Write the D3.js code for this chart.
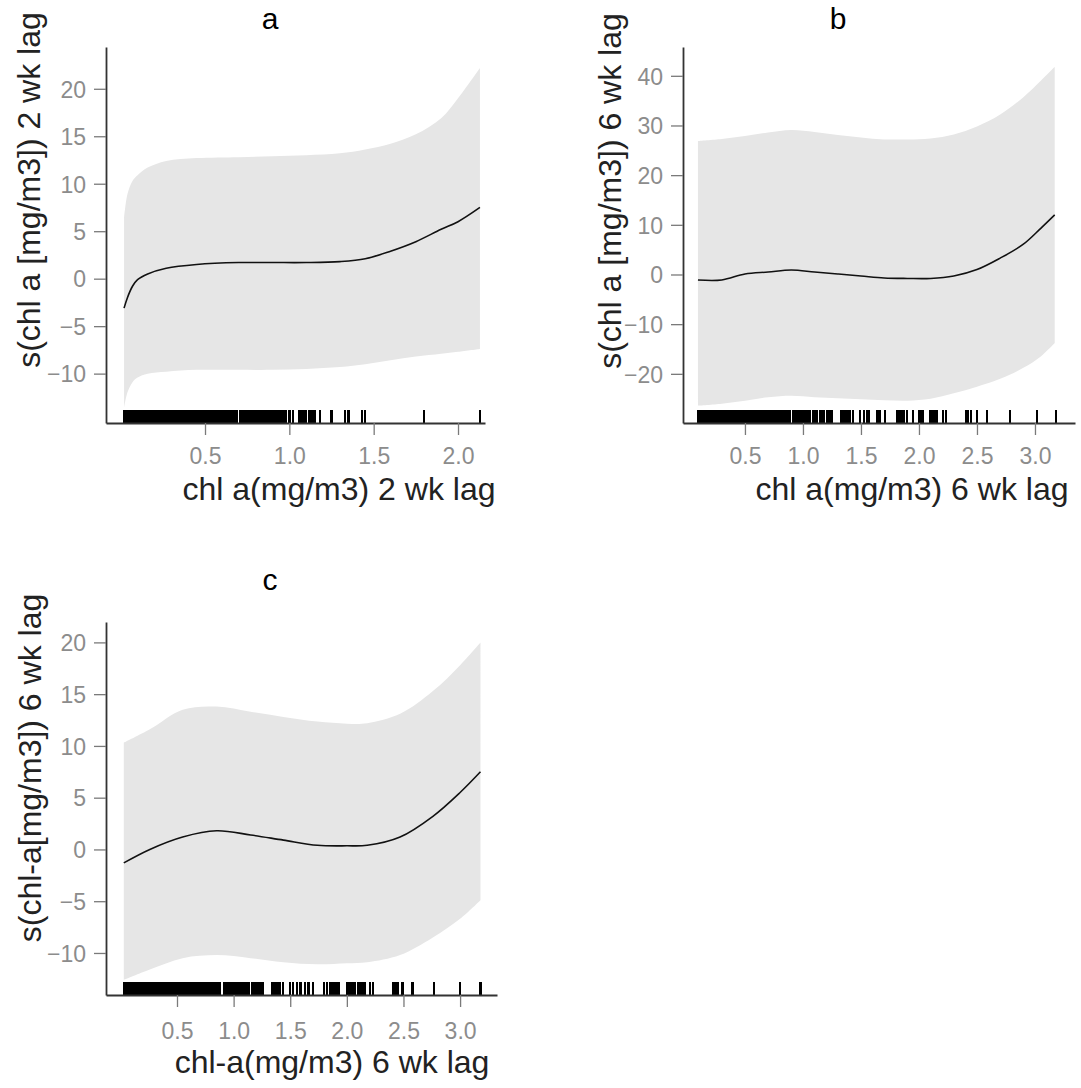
<!DOCTYPE html>
<html>
<head>
<meta charset="utf-8">
<script src="https://cdn.jsdelivr.net/npm/d3@7/dist/d3.min.js"></script>
<style>
  body { margin: 0; background: #fff; }
  svg { font-family: "Liberation Sans", Arial, sans-serif; }
  .tick text { fill: #8c8c8c; font-size: 23px; }
  .tick line { stroke: #7a7a7a; stroke-width: 1.3; }
  .domain { stroke: #333; stroke-width: 1.8; }
</style>
</head>
<body>
<div id="chart"></div>
<script>
// ---- panel a: chl a 2 wk lag ----
const aX     = [0.02, 0.04, 0.07, 0.10, 0.16, 0.27, 0.45, 0.70, 0.90, 1.10, 1.30, 1.45, 1.60, 1.75, 1.90, 2.00, 2.13];
const aFit   = [-3.1, -2.0, -0.8, -0.1, 0.5, 1.1, 1.5, 1.7, 1.7, 1.7, 1.8, 2.1, 2.9, 3.9, 5.2, 6.0, 7.5];
const aUpper = [6.4, 8.9, 10.3, 10.9, 11.7, 12.4, 12.7, 12.8, 12.9, 13.0, 13.2, 13.6, 14.2, 15.2, 16.9, 19.0, 22.2];
const aLower = [-13.6, -12.0, -10.9, -10.4, -10.0, -9.8, -9.6, -9.6, -9.6, -9.5, -9.3, -9.0, -8.6, -8.2, -7.9, -7.7, -7.4];
const aRug = [
  0.02,0.03,0.04,0.05,0.06,0.07,0.08,0.09,0.10,0.11,0.12,0.13,0.14,0.15,0.16,0.17,0.18,0.19,0.20,
  0.21,0.22,0.23,0.24,0.25,0.26,0.27,0.28,0.29,0.30,0.31,0.32,0.33,0.34,0.35,0.36,0.37,0.38,0.39,
  0.40,0.41,0.42,0.43,0.44,0.45,0.46,0.47,0.48,0.49,0.50,0.51,0.52,0.53,0.54,0.55,0.56,0.57,0.58,
  0.59,0.60,0.61,0.62,0.63,0.64,0.65,0.66,0.67,0.68,0.69,
  0.71,0.72,0.73,0.74,0.75,0.76,0.77,0.78,0.79,0.80,0.81,0.82,0.83,0.84,0.85,0.86,0.87,0.88,0.89,
  0.90,0.91,0.92,0.93,0.94,0.95,0.96,0.97,0.98,
  1.00,1.02,1.06,1.07,1.08,1.09,1.10,1.12,1.13,1.14,1.15,1.18,1.25,1.33,1.35,1.43,1.45,1.80,2.13
];
const aYTicks = [-10, -5, 0, 5, 10, 15, 20];

// ---- panel b: chl a 6 wk lag ----
const bX     = [0.095, 0.3, 0.5, 0.7, 0.9, 1.1, 1.3, 1.5, 1.7, 1.9, 2.1, 2.3, 2.5, 2.7, 2.9, 3.05, 3.17];
const bFit   = [-1.1, -1.1, 0.1, 0.5, 0.9, 0.5, 0.1, -0.3, -0.7, -0.8, -0.8, -0.3, 1.0, 3.3, 6.1, 9.3, 12.0];
const bUpper = [26.9, 27.3, 27.9, 28.6, 29.1, 28.7, 28.1, 27.6, 27.2, 27.2, 27.4, 28.2, 29.8, 32.2, 35.7, 39.0, 41.8];
const bLower = [-26.4, -26.0, -25.4, -24.7, -24.4, -24.7, -24.9, -25.1, -25.3, -25.4, -25.0, -23.9, -22.6, -21.0, -18.8, -16.5, -13.8];
const bRug = [
  0.095,0.11,0.125,0.14,0.155,0.17,0.185,0.20,0.215,0.23,0.245,0.26,0.275,0.29,0.305,0.32,0.335,0.35,
  0.365,0.38,0.395,0.41,0.425,0.44,0.455,0.47,0.485,0.50,0.515,0.53,0.545,0.56,0.575,0.59,0.605,0.62,
  0.635,0.65,0.665,0.68,0.695,0.71,0.725,0.74,0.755,0.77,0.785,0.80,0.815,0.83,0.845,0.86,0.875,0.888,
  0.914,0.93,0.945,0.96,0.975,0.99,1.005,1.02,1.035,1.05,1.06,
  1.086,1.10,1.12,1.147,1.165,1.18,1.207,1.225,1.24,1.25,
  1.328,1.345,1.36,1.375,1.39,1.405,1.43,1.49,1.526,1.55,1.57,1.64,1.66,1.707,
  1.81,1.83,1.85,1.87,1.897,1.95,2.0,2.015,2.03,2.095,2.11,2.125,2.14,2.155,2.207,2.233,
  2.405,2.425,2.448,2.5,2.586,2.784,3.017,3.18
];
const bYTicks = [-20, -10, 0, 10, 20, 30, 40];

// ---- panel c: chl-a 6 wk lag ----
const cX     = [0.03, 0.26, 0.55, 0.85, 1.15, 1.44, 1.74, 2.0, 2.18, 2.47, 2.76, 3.0, 3.18];
const cFit   = [-1.3, 0.0, 1.2, 1.8, 1.4, 0.9, 0.4, 0.35, 0.4, 1.2, 3.2, 5.5, 7.5];
const cUpper = [10.3, 11.6, 13.5, 13.8, 13.3, 12.8, 12.35, 12.15, 12.2, 13.1, 15.3, 17.8, 20.0];
const cLower = [-12.6, -11.6, -10.5, -10.2, -10.5, -10.9, -11.1, -11.0, -10.9, -10.2, -8.5, -6.7, -4.9];
const cRug = [
  0.03,0.045,0.06,0.075,0.09,0.105,0.12,0.135,0.15,0.165,0.18,0.195,0.21,0.225,0.24,0.255,0.27,0.285,
  0.30,0.315,0.33,0.345,0.36,0.375,0.39,0.405,0.42,0.435,0.45,0.465,0.48,0.495,0.51,0.525,0.54,0.555,
  0.57,0.585,0.60,0.615,0.63,0.645,0.66,0.675,0.69,0.705,0.72,0.735,0.75,0.765,0.78,0.795,0.81,0.825,
  0.84,0.855,0.87,0.88,
  0.915,0.93,0.945,0.96,0.975,0.986,0.995,1.01,1.03,1.048,1.065,1.083,1.10,1.115,1.13,
  1.16,1.175,1.19,1.205,1.22,1.235,1.25,1.26,1.34,1.355,1.37,1.385,1.40,1.41,1.436,
  1.5,1.525,1.56,1.59,1.63,1.66,1.70,1.80,1.825,1.855,1.87,1.885,1.9,1.925,
  2.0,2.015,2.03,2.045,2.06,2.07,2.1,2.115,2.13,2.145,2.16,2.205,2.23,
  2.41,2.43,2.45,2.49,2.58,2.77,3.0,3.18
];
const cYTicks = [-10, -5, 0, 5, 10, 15, 20];

const xTicks = [0.5, 1.0, 1.5, 2.0, 2.5, 3.0];

const panels = [
  { title: 'a', x: aX, fit: aFit, upper: aUpper, lower: aLower, rug: aRug, yTicks: aYTicks,
    xDomain: [-0.087, 2.16], yDomain: [-15.2, 24.4],
    left: 106, right: 485, top: 47, bottom: 423, pad: 13,
    titlePos: [270, 29], yLabPos: [40, 190], xLabPos: [339, 500],
    yLab: 's(chl a [mg/m3]) 2 wk lag', xLab: 'chl a(mg/m3) 2 wk lag' },
  { title: 'b', x: bX, fit: bFit, upper: bUpper, lower: bLower, rug: bRug, yTicks: bYTicks,
    xDomain: [-0.034, 3.345], yDomain: [-29.9, 45.8],
    left: 683, right: 1075, top: 47, bottom: 423, pad: 13,
    titlePos: [838, 29], yLabPos: [621, 191], xLabPos: [912, 500],
    yLab: 's(chl a [mg/m3]) 6 wk lag', xLab: 'chl a(mg/m3) 6 wk lag' },
  { title: 'c', x: cX, fit: cFit, upper: cUpper, lower: cLower, rug: cRug, yTicks: cYTicks,
    xDomain: [-0.127, 3.326], yDomain: [-14.06, 21.97],
    left: 106, right: 497, top: 622, bottom: 995, pad: 16,
    titlePos: [270, 590], yLabPos: [41, 768], xLabPos: [332, 1073],
    yLab: 's(chl-a[mg/m3]) 6 wk lag', xLab: 'chl-a(mg/m3) 6 wk lag' }
];

const width = 1081, height = 1088;
const svg = d3.select('#chart').append('svg')
  .attr('width', width)
  .attr('height', height);

panels.forEach(p => {
  const x = d3.scaleLinear().domain(p.xDomain).range([p.left, p.right]);
  const y = d3.scaleLinear().domain(p.yDomain).range([p.bottom, p.top]);
  const pts = p.x.map((v, i) => ({ x: v, fit: p.fit[i], lo: p.lower[i], hi: p.upper[i] }));
  const g = svg.append('g');

  // confidence band
  g.append('path')
    .datum(pts)
    .attr('fill', '#e6e6e6')
    .attr('d', d3.area()
      .curve(d3.curveCatmullRom.alpha(0.5))
      .x(d => x(d.x))
      .y0(d => y(d.lo))
      .y1(d => y(d.hi)));

  // smooth
  g.append('path')
    .datum(pts)
    .attr('fill', 'none')
    .attr('stroke', '#111')
    .attr('stroke-width', 1.6)
    .attr('d', d3.line()
      .curve(d3.curveCatmullRom.alpha(0.5))
      .x(d => x(d.x))
      .y(d => y(d.fit)));

  // rug
  g.append('g').selectAll('line')
    .data(p.rug).enter().append('line')
      .attr('x1', d => x(d)).attr('x2', d => x(d))
      .attr('y1', p.bottom - 13).attr('y2', p.bottom)
      .attr('stroke', '#000')
      .attr('stroke-width', 2.4)
      .attr('shape-rendering', 'crispEdges');

  // axes
  const xt = xTicks.filter(t => t <= p.xDomain[1]);
  g.append('g')
    .attr('transform', `translate(0,${p.bottom})`)
    .call(d3.axisBottom(x).tickValues(xt).tickFormat(d3.format('.1f'))
      .tickSize(12).tickSizeOuter(0).tickPadding(p.pad));
  g.append('g')
    .attr('transform', `translate(${p.left},0)`)
    .call(d3.axisLeft(y).tickValues(p.yTicks).tickFormat(d3.format('d'))
      .tickSize(12).tickSizeOuter(0).tickPadding(8))
    .selectAll('.tick text').attr('dy', '0.36em');

  // labels
  g.append('text')
    .attr('x', p.titlePos[0]).attr('y', p.titlePos[1])
    .attr('text-anchor', 'middle')
    .attr('font-size', 30)
    .attr('fill', '#000')
    .text(p.title);
  g.append('text')
    .attr('transform', `translate(${p.yLabPos[0]},${p.yLabPos[1]}) rotate(-90)`)
    .attr('text-anchor', 'middle')
    .attr('font-size', 32)
    .attr('fill', '#222')
    .text(p.yLab);
  g.append('text')
    .attr('x', p.xLabPos[0]).attr('y', p.xLabPos[1])
    .attr('text-anchor', 'middle')
    .attr('font-size', 32)
    .attr('fill', '#222')
    .text(p.xLab);
});
</script>
</body>
</html>
